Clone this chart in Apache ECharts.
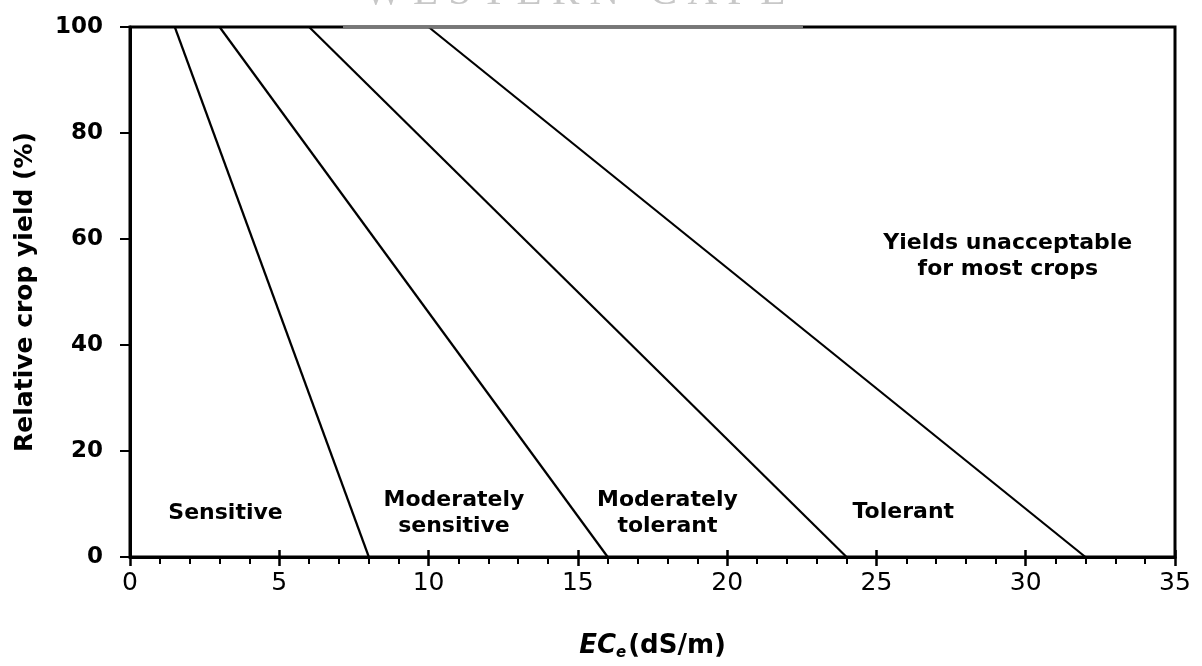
<!DOCTYPE html>
<html>
<head>
    <meta charset="utf-8">
    <title>Salt tolerance</title>
    <script src="https://cdn.jsdelivr.net/npm/echarts@6/dist/echarts.min.js"></script>
    <style>
        html, body { margin: 0; padding: 0; background: #fff; }
    </style>
</head>
<body>
    <div id="main" style="width: 1202px;height:666px;"></div>
    <script type="text/javascript">
        // tolerance classes: EC where yield begins to drop (100%) and where it reaches 0
        var classes = ['Sensitive', 'Moderately sensitive', 'Moderately tolerant', 'Tolerant'];
        var thresholdEC = [1.5, 3, 6, 10];
        var zeroYieldEC = [8, 16, 24, 32];

        // zone labels inside the plot
        var zoneText = ['Sensitive', 'Moderately\nsensitive', 'Moderately\ntolerant', 'Tolerant', 'Yields unacceptable\nfor most crops'];
        var zoneX = [3.2, 10.85, 18.0, 25.9, 29.4];
        var zoneY = [8.3, 8.3, 8.3, 8.5, 56.8];

        var FONT = 'DejaVu Sans';
        var myChart = echarts.init(document.getElementById('main'));

        var series = [];
        for (var i = 0; i < classes.length; i++) {
            series.push({
                name: classes[i],
                type: 'line',
                showSymbol: false,
                symbol: 'none',
                silent: true,
                lineStyle: { color: '#000', width: 2.2 },
                data: [[thresholdEC[i], 100], [zeroYieldEC[i], 0]]
            });
        }

        var zoneData = [];
        for (var j = 0; j < zoneText.length; j++) {
            zoneData.push({ name: zoneText[j], value: [zoneX[j], zoneY[j]] });
        }
        series.push({
            type: 'scatter',
            symbolSize: 0,
            silent: true,
            itemStyle: { color: '#fff', opacity: 1 },
            label: {
                show: true,
                position: 'inside',
                formatter: function (p) { return p.name; },
                color: '#000',
                opacity: 1,
                textBorderWidth: 0,
                fontFamily: FONT,
                fontWeight: 'bold',
                fontSize: 22,
                lineHeight: 26,
                align: 'center'
            },
            data: zoneData
        });

        var option = {
            animation: false,
            backgroundColor: '#fff',
            grid: {
                left: 130, right: 27, top: 27, bottom: 109,
                show: true,
                borderColor: '#000',
                borderWidth: 3
            },
            xAxis: [
                {
                    type: 'value',
                    min: 0,
                    max: 35,
                    interval: 5,
                    name: '{a|EC}{s|e}{b|(dS/m)}',
                    nameLocation: 'middle',
                    nameGap: 74,
                    nameTextStyle: {
                        rich: {
                            a: { fontFamily: FONT, fontSize: 26, fontWeight: 'bold', fontStyle: 'italic', color: '#000' },
                            s: { fontFamily: FONT, fontSize: 15, fontWeight: 'bold', fontStyle: 'italic', color: '#000', padding: [15, 2, 0, 0] },
                            b: { fontFamily: FONT, fontSize: 26, fontWeight: 'bold', color: '#000' }
                        }
                    },
                    axisLine: { lineStyle: { color: '#000', width: 3 } },
                    axisTick: { length: 9, lineStyle: { color: '#000', width: 2.5 } },
                    minorTick: { show: true, splitNumber: 5, length: 7, lineStyle: { color: '#000', width: 2 } },
                    axisLabel: { fontFamily: FONT, fontSize: 25, color: '#000', margin: 14 },
                    splitLine: { show: false },
                    minorSplitLine: { show: false }
                },
                {
                    // same scale, only to draw the inward half of the major ticks
                    type: 'value',
                    position: 'bottom',
                    min: 0,
                    max: 35,
                    interval: 5,
                    axisLine: { show: false },
                    axisTick: { show: true, inside: true, length: 7, lineStyle: { color: '#000', width: 2.5 } },
                    axisLabel: { show: false },
                    splitLine: { show: false }
                }
            ],
            yAxis: {
                type: 'value',
                min: 0,
                max: 100,
                interval: 20,
                name: 'Relative crop yield (%)',
                nameLocation: 'middle',
                nameGap: 92,
                nameTextStyle: { fontFamily: FONT, fontSize: 25, fontWeight: 'bold', color: '#000' },
                axisLine: { show: true, lineStyle: { color: '#000', width: 3 } },
                axisTick: { show: true, length: 10, lineStyle: { color: '#000', width: 2 } },
                axisLabel: { fontFamily: FONT, fontSize: 23, fontWeight: 'bold', color: '#000', margin: 27 },
                splitLine: { show: false }
            },
            graphic: [
                {
                    // faded scan watermark at the top edge
                    type: 'text',
                    x: 364,
                    y: -27,
                    z: 0,
                    style: {
                        text: 'W E S T E R N   C A P E',
                        fontSize: 41,
                        fontFamily: 'Liberation Serif',
                        fill: '#c8c8c8'
                    }
                },
                {
                    type: 'line',
                    z: 100,
                    shape: { x1: 343, y1: 27, x2: 803, y2: 27 },
                    style: { stroke: '#777', lineWidth: 3 }
                }
            ],
            series: series
        };

        myChart.setOption(option);
    </script>
</body>
</html>
